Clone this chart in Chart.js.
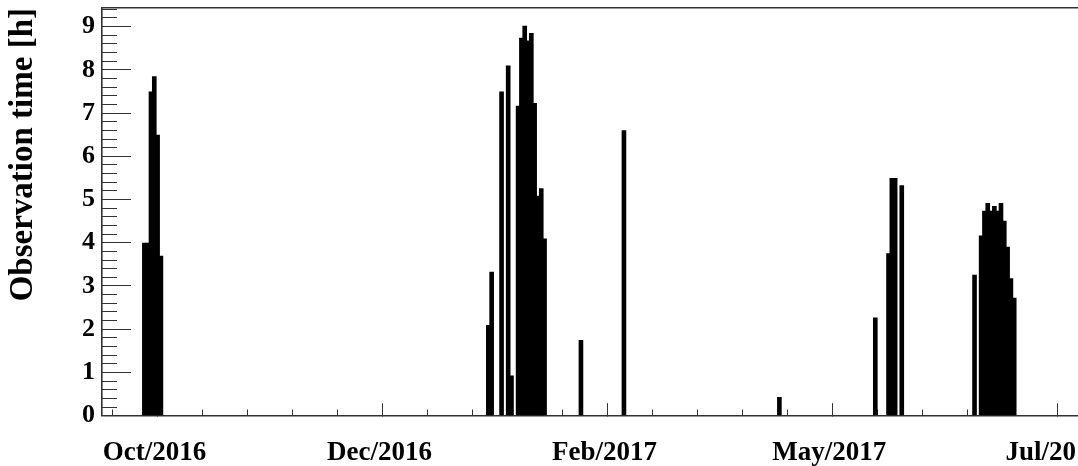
<!DOCTYPE html>
<html>
<head>
<meta charset="utf-8">
<title>Observation time per night</title>
<script src="https://cdn.jsdelivr.net/npm/chart.js@4/dist/chart.umd.min.js"></script>
<style>
  html, body { margin: 0; padding: 0; background: #fff; overflow: hidden; }
  canvas { display: block; }
</style>
</head>
<body>
<canvas id="chart" width="1120" height="466"></canvas>
<script>
// Nights with observations and the hours taken on each night.
const nightDates = [
  '2016-10-07', '2016-10-08', '2016-10-09', '2016-10-10', '2016-10-11', '2016-10-12',
  '2017-01-19', '2017-01-20', '2017-01-23', '2017-01-25', '2017-01-26',
  '2017-01-28', '2017-01-29', '2017-01-30', '2017-01-31', '2017-02-01',
  '2017-02-02', '2017-02-03', '2017-02-04', '2017-02-05',
  '2017-02-16', '2017-03-01', '2017-04-17',
  '2017-05-16', '2017-05-20', '2017-05-21', '2017-05-22', '2017-05-24',
  '2017-06-15', '2017-06-17', '2017-06-18', '2017-06-19', '2017-06-20', '2017-06-21',
  '2017-06-22', '2017-06-23', '2017-06-24', '2017-06-25', '2017-06-26', '2017-06-27'
];
const observationHours = [
  4.0, 4.0, 7.5, 7.85, 6.5, 3.7,
  2.1, 3.33, 7.5, 8.1, 0.93,
  7.17, 8.74, 9.02, 8.68, 8.85,
  7.23, 5.09, 5.26, 4.1,
  1.75, 6.6, 0.43,
  2.27, 3.76, 5.5, 5.5, 5.33,
  3.26, 4.17, 4.74, 4.92, 4.74, 4.85,
  4.74, 4.92, 4.51, 3.91, 3.18, 2.73
];

// Labelled time-axis divisions.
const tickDates = ['2016-10-11', '2016-12-18', '2017-02-24', '2017-05-03', '2017-07-10'];
const tickLabels = ['Oct/2016', 'Dec/2016', 'Feb/2017', 'May/2017', 'Jul/2017'];

// Hour-axis divisions.
const hourTicks = [0, 1, 2, 3, 4, 5, 6, 7, 8, 9];
const hourTitle = 'Observation time [h]';

// Day number counted from the start of October 2016.
const EPOCH = Date.UTC(2016, 9, 1);
function dayNumber(iso) {
  const [y, m, d] = iso.split('-').map(Number);
  return Math.round((Date.UTC(y, m - 1, d) - EPOCH) / 86400000);
}

const points = nightDates.map((d, i) => ({ x: dayNumber(d), y: observationHours[i] }));
const majorDays = tickDates.map(dayNumber);
const minorStep = (majorDays[1] - majorDays[0]) / 5;

const xMin = majorDays[0] - 16.81;
const xMax = majorDays[0] + 280.1;
const yMax = 9.43;

// Secondary ticks: five subdivisions per labelled division on both axes.
const minorDays = [];
for (let k = -2; k <= 25; k++) {
  if (k % 5 === 0) continue;
  const v = majorDays[0] + k * minorStep;
  if (v > xMin && v < xMax) minorDays.push(v);
}
const minorHours = [];
for (let k = 1; k * 0.2 < yMax; k++) {
  if (k % 5 === 0) continue;
  minorHours.push(+(k * 0.2).toFixed(1));
}

const FONT = "'Liberation Serif', 'Times New Roman', Times, serif";
const AXIS_COLOR = '#333';

// Tick labels may overhang the frame; they must not shrink the plotting area.
function noOverhang(s) {
  s.paddingLeft = 0; s.paddingRight = 0; s.paddingTop = 0; s.paddingBottom = 0;
}

new Chart(document.getElementById('chart'), {
  type: 'bar',
  data: {
    datasets: [{
      data: points,
      backgroundColor: '#000',
      borderWidth: 0,
      barPercentage: 1.4,
      categoryPercentage: 1.0,
      grouped: false
    }]
  },
  options: {
    responsive: false,
    animation: false,
    devicePixelRatio: 1,
    layout: { padding: { top: 8, right: 36, left: 0, bottom: 0 } },
    plugins: { legend: { display: false }, tooltip: { enabled: false } },
    scales: {
      x: {
        type: 'linear',
        position: 'bottom',
        min: xMin,
        max: xMax,
        offset: false,
        afterBuildTicks: s => { s.ticks = majorDays.map(v => ({ value: v })); },
        afterFit: s => { s.height = 50.3; noOverhang(s); },
        ticks: {
          autoSkip: false,
          maxRotation: 0,
          padding: 36,
          labelOffset: -3,
          color: '#000',
          font: { family: FONT, size: 27, weight: 'bold', lineHeight: 1.0 },
          callback: (v, i) => tickLabels[i]
        },
        grid: { drawOnChartArea: false, drawTicks: true, tickLength: -12.5, tickColor: AXIS_COLOR, tickWidth: 1, offset: false },
        border: { display: true, color: AXIS_COLOR, width: 1.6 }
      },
      xMinor: {
        type: 'linear',
        axis: 'x',
        position: { y: 0 },
        min: xMin,
        max: xMax,
        offset: false,
        afterBuildTicks: s => { s.ticks = minorDays.map(v => ({ value: v })); },
        afterFit: noOverhang,
        ticks: { display: false },
        grid: { drawOnChartArea: false, drawTicks: true, tickLength: -6.5, tickColor: AXIS_COLOR, tickWidth: 1, offset: false },
        border: { display: false }
      },
      xTop: {
        type: 'linear',
        axis: 'x',
        position: 'top',
        min: xMin,
        max: xMax,
        afterBuildTicks: s => { s.ticks = []; },
        afterFit: s => { s.height = 0; noOverhang(s); },
        ticks: { display: false },
        grid: { display: false },
        border: { display: true, color: AXIS_COLOR, width: 1.6 }
      },
      y: {
        type: 'linear',
        position: 'left',
        min: 0,
        max: yMax,
        afterBuildTicks: s => { s.ticks = hourTicks.map(v => ({ value: v })); },
        afterFit: s => { s.width = 102; noOverhang(s); },
        ticks: {
          padding: 36,
          color: '#000',
          font: { family: FONT, size: 26, weight: 'bold' }
        },
        grid: { drawOnChartArea: false, drawTicks: true, tickLength: -29, tickColor: AXIS_COLOR, tickWidth: 1 },
        border: { display: true, color: AXIS_COLOR, width: 1.6 },
        title: {
          display: true,
          text: hourTitle,
          align: 'end',
          color: '#000',
          padding: { top: 4, bottom: 0 },
          font: { family: FONT, size: 33, weight: 'bold', lineHeight: 1.2 }
        }
      },
      yMinor: {
        type: 'linear',
        axis: 'y',
        position: { x: xMin },
        min: 0,
        max: yMax,
        afterBuildTicks: s => { s.ticks = minorHours.map(v => ({ value: v })); },
        afterFit: noOverhang,
        ticks: { display: false },
        grid: { drawOnChartArea: false, drawTicks: true, tickLength: -15, tickColor: AXIS_COLOR, tickWidth: 1 },
        border: { display: false }
      }
    }
  }
});
</script>
</body>
</html>
